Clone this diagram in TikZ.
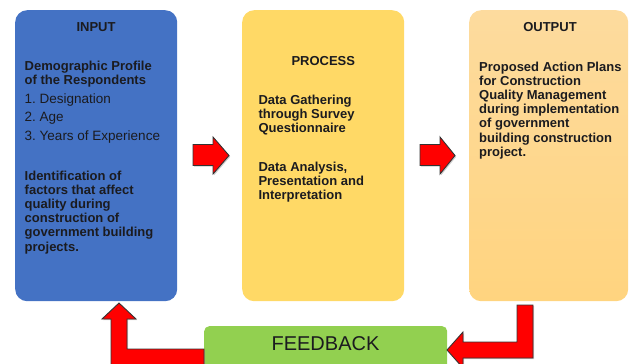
\documentclass[tikz,border=0pt]{standalone}
\usepackage{fontspec}
\setmainfont{Liberation Sans}
\frenchspacing
\definecolor{inblue}{HTML}{4472C4}
\definecolor{procyellow}{HTML}{FFD966}
\definecolor{outtop}{HTML}{FDDB9E}
\definecolor{outbot}{HTML}{FFD47F}
\definecolor{fbgreen}{HTML}{92D050}
\definecolor{arrowred}{HTML}{FF0000}
\definecolor{ink}{HTML}{1B1B1F}

\begin{document}
\begin{tikzpicture}[x=1pt,y=-1pt,
  stagebox/.style={rounded corners=12pt, inner sep=0pt, anchor=north west,
    minimum height=291pt},
  headline/.style={font=\fontsize{13}{14.2}\selectfont\bfseries, text=ink,
    inner sep=0pt, anchor=base},
  para/.style={font=\fontsize{13}{14.2}\selectfont\bfseries, text=ink,
    inner sep=0pt, align=left, anchor=north west},
  listitem/.style={font=\fontsize{13.5}{15}\selectfont, text=ink,
    inner sep=0pt, anchor=base west},
  blockarrow/.style={fill=arrowred, draw=black!80, line width=0.9pt,
    line join=miter,
    preaction={fill=black!40, opacity=0.5, draw=none,
      transform canvas={shift={(1.2pt,-1.2pt)}}}}]
\useasboundingbox (0,0) rectangle (630,364);

% the three stages
\node[stagebox, fill=inblue, minimum width=162pt] (input) at (15,10) {};
\node[stagebox, fill=procyellow, minimum width=162pt] (process) at (242,10) {};
\node[stagebox, top color=outtop, bottom color=outbot, minimum width=159pt]
  (output) at (469,10) {};

% feedback bar, running past the lower edge
\node[rounded corners=5pt, fill=fbgreen, inner sep=0pt, anchor=north west,
  minimum width=243pt, minimum height=50pt] (feedback) at (204,326) {};
\node[font=\fontsize{20}{24}\selectfont, text=ink, inner sep=0pt, anchor=base]
  (fbtext) at (325.5,350) {FEEDBACK};

% input text
\node[headline] (intitle) at (96,31.5) {INPUT};
\node[para] (inprofile) at (24.5,60.5) {Demographic Profile\\of the Respondents};
\node[listitem] (item1) at (24.5,103.3) {1. Designation};
\node[listitem] (item2) at (24.5,121.8) {2. Age};
\node[listitem] (item3) at (24.5,140.3) {3. Years of Experience};
\node[para] (infactors) at (24.5,170.5) {Identification of\\factors that affect\\quality during\\construction of\\government building\\projects.};

% process text
\node[headline] (proctitle) at (323.3,65) {PROCESS};
\node[para] (procgather) at (258.3,94.5) {Data Gathering\\through Survey\\Questionnaire};
\node[para] (procanalysis) at (258.3,161.5) {Data Analysis,\\Presentation and\\Interpretation};

% output text
\node[headline] (outtitle) at (550,31.7) {OUTPUT};
\node[para] (outplans) at (479,61.5) {Proposed Action Plans\\for Construction\\Quality Management\\during implementation\\of government\\building construction\\project.};

% forward arrows between the stages
\path[blockarrow] (193,144.5) -- (213,144.5) -- (213,137) -- (229,155.5)
  -- (213,174) -- (213,165.5) -- (193,165.5) -- cycle;
\path[blockarrow] (420,144.5) -- (440,144.5) -- (440,137) -- (455,155.5)
  -- (440,174) -- (440,165.5) -- (420,165.5) -- cycle;

% output -> feedback
\path[blockarrow] (517,305) -- (533,305) -- (533,358) -- (463,358) -- (463,368)
  -- (447,350) -- (463,332) -- (463,342) -- (517,342) -- cycle;

% feedback -> input
\path[blockarrow] (204,349) -- (127,349) -- (127,319) -- (136,319) -- (119,303)
  -- (102,319) -- (111,319) -- (111,368) -- (204,368) -- cycle;
\end{tikzpicture}
\end{document}
